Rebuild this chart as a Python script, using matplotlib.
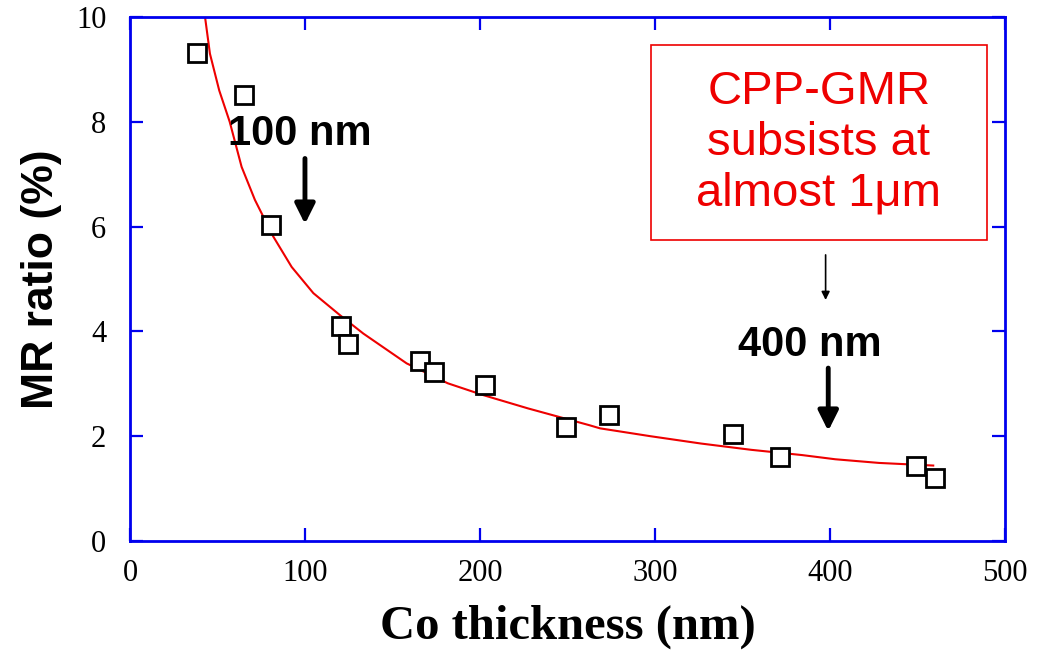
import numpy as np
import matplotlib
matplotlib.use('Agg')
import matplotlib.pyplot as plt
from matplotlib.patches import Rectangle

# measured MR ratio vs Co thickness
thick = [38.3, 65.1, 80.6, 120.6, 124.6, 165.7, 173.7, 202.9, 249.0, 274.0,
         344.6, 371.6, 449.0, 460.0]
mr = [9.31, 8.51, 6.03, 4.10, 3.76, 3.44, 3.23, 2.98, 2.18, 2.40,
      2.05, 1.61, 1.44, 1.21]

# fitted curve
fit_x = [42.9, 45.7, 51.0, 57.0, 63.8, 71.4, 81.9, 92.4, 104.8, 120.0, 133.3,
         158.1, 181.6, 201.3, 227.5, 245.0, 262.5, 268.6, 297.4, 326.3, 355.0,
         384.0, 403.0, 428.0, 459.0]
fit_y = [10.0, 9.3, 8.6, 8.0, 7.14, 6.51, 5.81, 5.23, 4.73, 4.31, 3.96,
         3.39, 3.01, 2.79, 2.53, 2.37, 2.21, 2.15, 2.0, 1.86, 1.74,
         1.64, 1.56, 1.49, 1.44]

xticks = [0, 100, 200, 300, 400, 500]
yticks = [0, 2, 4, 6, 8, 10]

blue = '#0000ee'
red = '#ee0000'

fig = plt.figure(figsize=(10.38, 6.5), dpi=100)
ax = fig.add_axes([0.1252, 0.1677, 0.843, 0.8061])

ax.plot(fit_x, fit_y, color=red, lw=1.5, zorder=2)
ax.plot(thick, mr, 's', ms=13.5, mfc='white', mec='black', mew=2, zorder=3)

ax.set_xlim(0, 500)
ax.set_ylim(0, 10)
ax.set_xticks(xticks)
ax.set_yticks(yticks)
ax.tick_params(direction='in', length=9.5, width=1.6, color=blue,
               top=True, right=True, labelsize=22)
ax.tick_params(axis='x', pad=13)
ax.tick_params(axis='y', pad=17)
for lab in ax.get_xticklabels() + ax.get_yticklabels():
    lab.set_family('Liberation Serif')
for sp in ax.spines.values():
    sp.set_color(blue)
    sp.set_linewidth(2)

ax.set_xlabel('Co thickness (nm)', family='Liberation Serif', fontweight='bold',
              fontsize=35, labelpad=12)
ax.set_ylabel('MR ratio (%)', family='Liberation Sans', fontweight='bold',
              fontsize=32, labelpad=10)

# annotations
ax.text(97.1, 7.38, '100 nm', family='Liberation Sans', fontweight='bold',
        fontsize=30, ha='center', va='bottom')
ax.annotate('', xy=(100, 6.05), xytext=(100, 7.3),
            arrowprops=dict(arrowstyle='-|>', color='black', lw=3.5,
                            mutation_scale=30, shrinkA=0, shrinkB=0))
ax.text(388.6, 3.35, '400 nm', family='Liberation Sans', fontweight='bold',
        fontsize=30, ha='center', va='bottom')
ax.annotate('', xy=(399, 2.1), xytext=(399, 3.3),
            arrowprops=dict(arrowstyle='-|>', color='black', lw=3.5,
                            mutation_scale=30, shrinkA=0, shrinkB=0))
ax.annotate('', xy=(397.5, 4.6), xytext=(397.5, 5.46),
            arrowprops=dict(arrowstyle='-|>', color='black', lw=1.2,
                            mutation_scale=12, shrinkA=0, shrinkB=0))

ax.add_patch(Rectangle((297.7, 5.74), 192.0, 3.73, fill=False,
                       edgecolor=red, lw=1.2, zorder=4))
ax.text(393.7, 7.6, 'CPP-GMR\nsubsists at\nalmost 1\u03bcm', color=red,
        family='Liberation Sans', fontsize=34, ha='center', va='center',
        linespacing=1.2)

plt.savefig('out.png', dpi=100)
